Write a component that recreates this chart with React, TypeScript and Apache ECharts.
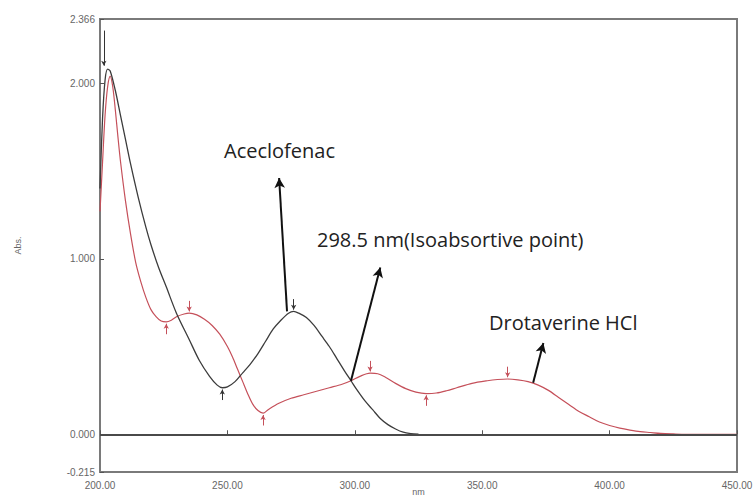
import React, { useEffect, useRef } from "react";
import * as echarts from "echarts";

// Aceclofenac (black)
const nmBlack = [200, 201, 202, 203, 204, 206, 208, 210, 212, 215, 218, 220, 223, 226, 230, 235, 239, 243, 246, 248, 250, 253, 256, 259, 262, 265, 268, 271, 274, 276, 278, 281, 284, 287, 290, 293, 296, 298.5, 301, 304, 307, 310, 313, 316, 319, 322, 325];
const absBlack = [1.4, 1.8, 2.02, 2.08, 2.07, 1.96, 1.82, 1.68, 1.54, 1.35, 1.18, 1.08, 0.95, 0.84, 0.69, 0.54, 0.42, 0.33, 0.28, 0.265, 0.27, 0.3, 0.35, 0.4, 0.46, 0.53, 0.6, 0.65, 0.69, 0.7, 0.69, 0.665, 0.62, 0.56, 0.5, 0.43, 0.36, 0.305, 0.25, 0.19, 0.14, 0.09, 0.055, 0.03, 0.012, 0.004, 0];

// Drotaverine HCl (red)
const nmRed = [200, 201, 202, 203, 204, 205, 206, 207, 208, 210, 212, 214, 216, 218, 220, 222, 224, 226, 228, 230, 233, 235, 238, 241, 244, 247, 250, 252, 254, 256, 258, 260, 262, 264, 266, 270, 275, 280, 285, 290, 295, 298.5, 302, 306, 309, 312, 316, 320, 324, 328, 332, 336, 340, 346, 352, 356, 360, 364, 368, 372, 376, 380, 384, 388, 392, 396, 400, 404, 408, 412, 416, 420, 425, 430, 450];
const absRed = [1.27, 1.55, 1.82, 1.98, 2.04, 1.98, 1.85, 1.7, 1.56, 1.33, 1.14, 0.98, 0.87, 0.78, 0.71, 0.67, 0.645, 0.64, 0.65, 0.67, 0.685, 0.69, 0.68, 0.655, 0.62, 0.57, 0.5, 0.44, 0.37, 0.3, 0.23, 0.17, 0.135, 0.12, 0.14, 0.175, 0.205, 0.225, 0.245, 0.265, 0.285, 0.305, 0.33, 0.348, 0.345, 0.325, 0.29, 0.26, 0.24, 0.232, 0.235, 0.248, 0.265, 0.29, 0.305, 0.312, 0.315, 0.31, 0.3, 0.28, 0.25, 0.21, 0.17, 0.13, 0.1, 0.07, 0.05, 0.035, 0.024, 0.015, 0.01, 0.005, 0.002, 0, 0];

const xTicks = [200, 250, 300, 350, 400, 450];
const yTicks = [-0.215, 0, 1, 2, 2.366];

const redPeaks = [235, 306, 360];
const redValleys = [226, 264, 328];
const blackPeaks = [276];
const blackValleys = [248];

// annotation arrows: [fromNm, fromAbs, toNm, toAbs]
const arrowAcec = [273.4, 0.7, 270.3, 1.46];
const arrowIso = [298.5, 0.305, 310, 0.95];
const arrowDrot = [370, 0.294, 374, 0.52];

const labelAcec = "Aceclofenac";
const labelIso = "298.5 nm(Isoabsortive point)";
const labelDrot = "Drotaverine HCl";

function valueAt(xs: number[], ys: number[], x: number) {
  const i = xs.indexOf(x);
  return i >= 0 ? ys[i] : 0;
}

function markers(xs: number[], ys: number[], peaks: number[], valleys: number[]) {
  const out: any[] = [];
  peaks.forEach((p) => {
    const y = valueAt(xs, ys, p);
    out.push([{ coord: [p, y + 0.07] }, { coord: [p, y + 0.01] }]);
  });
  valleys.forEach((v) => {
    const y = valueAt(xs, ys, v);
    out.push([{ coord: [v, y - 0.07] }, { coord: [v, y - 0.01] }]);
  });
  return out;
}

function arrow(a: number[]) {
  return [{ coord: [a[0], a[1]] }, { coord: [a[2], a[3]] }];
}

export default function App() {
  const ref = useRef<HTMLDivElement>(null);
  useEffect(() => {
    if (!ref.current) return;
    const chart = echarts.init(ref.current, null, { renderer: "svg" });
    const axisGray = "#7a7a7a";
    const labelStyle = { color: "#666", fontSize: 10, fontFamily: "Liberation Sans" };
    const annStyle = { fill: "#222", fontSize: 20, fontFamily: "Open Sans" };
    chart.setOption({
      animation: false,
      backgroundColor: "#ffffff",
      grid: {
        left: 100,
        right: 18,
        top: 19,
        bottom: 25,
        show: true,
        borderColor: axisGray,
        borderWidth: 2,
        containLabel: false,
        outerBoundsMode: "none",
      },
      xAxis: {
        type: "value",
        min: 200,
        max: 450,
        interval: 50,
        name: "nm",
        nameLocation: "middle",
        nameGap: 15,
        nameMoveOverlap: false,
        nameTextStyle: { color: "#666", fontSize: 9, fontFamily: "Liberation Sans", verticalAlign: "top" },
        axisLine: { show: true, lineStyle: { color: axisGray, width: 2 } },
        axisTick: { show: true, inside: true, length: 4, lineStyle: { color: "#555" } },
        axisLabel: { ...labelStyle, margin: 8, formatter: (v: number) => (xTicks.includes(v) ? v.toFixed(2) : "") },
        splitLine: { show: false },
      },
      yAxis: {
        type: "value",
        min: yTicks[0],
        max: yTicks[yTicks.length - 1],
        name: "Abs.",
        nameLocation: "middle",
        nameGap: 78,
        nameRotate: 90,
        nameMoveOverlap: false,
        nameTextStyle: { color: "#666", fontSize: 9, fontFamily: "Liberation Sans" },
        axisLine: { show: true, lineStyle: { color: axisGray, width: 2 } },
        axisTick: { show: true, inside: true, length: 4, customValues: yTicks, lineStyle: { color: "#555" } },
        axisLabel: { ...labelStyle, margin: 5, customValues: yTicks, formatter: (v: number) => v.toFixed(3) },
        splitLine: { show: false },
      },
      series: [
        {
          name: "Drotaverine HCl",
          type: "line",
          data: nmRed.map((x, i) => [x, absRed[i]]),
          showSymbol: false,
          smooth: 0.3,
          lineStyle: { color: "#c5505a", width: 1.2 },
          z: 2,
          markLine: {
            silent: true,
            symbol: ["none", "arrow"],
            symbolSize: [4, 5],
            label: { show: false },
            lineStyle: { color: "#c5505a", width: 1, type: "solid" },
            data: markers(nmRed, absRed, redPeaks, redValleys),
          },
        },
        {
          name: "Aceclofenac",
          type: "line",
          data: nmBlack.map((x, i) => [x, absBlack[i]]),
          showSymbol: false,
          smooth: 0.3,
          lineStyle: { color: "#3c3c3c", width: 1.3 },
          z: 3,
          markLine: {
            silent: true,
            symbol: ["none", "arrow"],
            symbolSize: [4, 5],
            label: { show: false },
            lineStyle: { color: "#333", width: 1, type: "solid" },
            data: [
              ...markers(nmBlack, absBlack, blackPeaks, blackValleys),
              [{ coord: [201.5, 2.3] }, { coord: [201.5, 2.1] }],
            ],
          },
        },
        {
          name: "annotations",
          type: "line",
          data: [],
          z: 5,
          markLine: {
            silent: true,
            symbol: ["none", "arrow"],
            symbolSize: [8, 10],
            label: { show: false },
            lineStyle: { color: "#111", width: 2, type: "solid" },
            data: [arrow(arrowAcec), arrow(arrowIso), arrow(arrowDrot)],
          },
        },
        {
          name: "baseline",
          type: "line",
          data: [],
          z: 4,
          markLine: {
            silent: true,
            symbol: ["none", "none"],
            label: { show: false },
            lineStyle: { color: "#4a4a4a", width: 2, type: "solid" },
            data: [{ yAxis: 0 }],
          },
        },
      ],
      graphic: [
        { type: "text", left: 224, top: 140, style: { text: labelAcec, ...annStyle } },
        { type: "text", left: 317, top: 229, style: { text: labelIso, ...annStyle } },
        { type: "text", left: 489, top: 312, style: { text: labelDrot, ...annStyle } },
      ],
    });
    return () => chart.dispose();
  }, []);
  return (
    <div
      ref={ref}
      style={{ position: "fixed", left: 0, top: 0, width: 755, height: 497, background: "#fff" }}
    />
  );
}
